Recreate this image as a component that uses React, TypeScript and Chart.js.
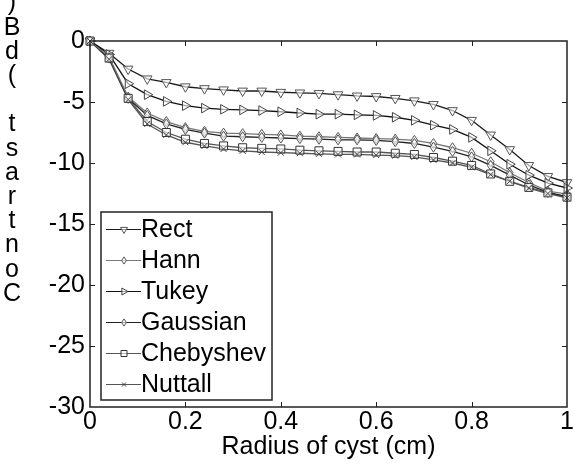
import React, { useEffect, useRef } from "react";
import { Chart, registerables } from "chart.js";

Chart.register(...registerables);

const xValues = [0, 0.04, 0.08, 0.12, 0.16, 0.2, 0.24, 0.28, 0.32, 0.36, 0.4, 0.44, 0.48, 0.52, 0.56, 0.6, 0.64, 0.68, 0.72, 0.76, 0.8, 0.84, 0.88, 0.92, 0.96, 1.0];
const rectValues = [0, -1.0, -2.3, -3.1, -3.4, -3.75, -3.9, -4.0, -4.1, -4.1, -4.2, -4.25, -4.3, -4.4, -4.5, -4.55, -4.7, -4.9, -5.2, -5.7, -6.5, -7.7, -8.9, -10.2, -11.1, -11.6];
const hannValues = [0, -1.3, -4.6, -5.9, -6.6, -7.1, -7.4, -7.55, -7.6, -7.65, -7.7, -7.8, -7.85, -7.9, -7.95, -8.0, -8.05, -8.15, -8.4, -8.75, -9.2, -9.9, -10.8, -11.6, -12.3, -12.55];
const tukeyValues = [0, -1.1, -3.5, -4.4, -4.95, -5.3, -5.5, -5.6, -5.65, -5.7, -5.8, -5.9, -6.0, -6.0, -6.05, -6.1, -6.25, -6.5, -6.9, -7.25, -7.9, -9.0, -10.1, -11.0, -11.65, -12.05];
const gaussianValues = [0, -1.4, -4.7, -6.1, -6.8, -7.25, -7.55, -7.8, -7.85, -7.9, -7.95, -8.0, -8.05, -8.1, -8.1, -8.15, -8.25, -8.4, -8.7, -9.05, -9.5, -10.2, -11.0, -11.8, -12.4, -12.75];
const chebyshevValues = [0, -1.4, -4.7, -6.6, -7.5, -8.05, -8.4, -8.6, -8.75, -8.8, -8.85, -8.95, -9.0, -9.05, -9.1, -9.1, -9.2, -9.3, -9.55, -9.85, -10.2, -10.9, -11.5, -12.0, -12.45, -12.8];
const nuttallValues = [0, -1.5, -4.8, -6.8, -7.7, -8.3, -8.6, -8.85, -9.0, -9.1, -9.15, -9.2, -9.25, -9.3, -9.3, -9.35, -9.4, -9.5, -9.75, -10.0, -10.35, -10.95, -11.5, -12.05, -12.5, -12.85];

const seriesNames = ["Rect", "Hann", "Tukey", "Gaussian", "Chebyshev", "Nuttall"];
const xTicks = [0, 0.2, 0.4, 0.6, 0.8, 1];
const yTicks = [-30, -25, -20, -15, -10, -5, 0];
const xTitle = "Radius of cyst (cm)";
const yTitle = "Contrast (dB)";

const FONT = "'Liberation Sans', Arial, Helvetica, sans-serif";
const FS = 25;

type Style = { line: string; marker: string; shape: string; rot: number; r: number; lr: number };
const styles: Style[] = [
  { line: "#1a1a1a", marker: "#555", shape: "triangle", rot: 180, r: 4.8, lr: 3.5 },
  { line: "#777", marker: "#555", shape: "rectRot", rot: 0, r: 4.2, lr: 3 },
  { line: "#111", marker: "#444", shape: "triangle", rot: 90, r: 4.8, lr: 3.5 },
  { line: "#222", marker: "#555", shape: "rectRot", rot: 0, r: 4.2, lr: 3 },
  { line: "#555", marker: "#333", shape: "rect", rot: 0, r: 4, lr: 3 },
  { line: "#555", marker: "#444", shape: "crossRot", rot: 0, r: 3, lr: 2 },
];

function drawMarker(ctx: CanvasRenderingContext2D, s: Style, x: number, y: number, r: number) {
  ctx.save();
  ctx.translate(x, y);
  ctx.rotate((s.rot * Math.PI) / 180);
  ctx.beginPath();
  if (s.shape === "triangle") {
    ctx.moveTo(0, -r * 1.15);
    ctx.lineTo(r * 1.0, r * 0.6);
    ctx.lineTo(-r * 1.0, r * 0.6);
    ctx.closePath();
  } else if (s.shape === "rectRot") {
    ctx.moveTo(0, -r * 1.2);
    ctx.lineTo(r * 0.8, 0);
    ctx.lineTo(0, r * 1.2);
    ctx.lineTo(-r * 0.8, 0);
    ctx.closePath();
  } else if (s.shape === "rect") {
    ctx.rect(-r, -r, 2 * r, 2 * r);
  } else {
    ctx.moveTo(-r, -r);
    ctx.lineTo(r, r);
    ctx.moveTo(r, -r);
    ctx.lineTo(-r, r);
  }
  ctx.fillStyle = "rgba(255,255,255,0.6)";
  if (s.shape !== "crossRot") ctx.fill();
  ctx.strokeStyle = s.marker;
  ctx.lineWidth = 1;
  ctx.stroke();
  ctx.restore();
}

const decorPlugin = {
  id: "decor",
  afterDatasetsDraw(chart: any) {
    const ctx: CanvasRenderingContext2D = chart.ctx;
    const { left, right, top, bottom } = chart.chartArea;
    const xs = chart.scales.x;
    const ys = chart.scales.y;
    chart.data.datasets.forEach((ds: any, i: number) => {
      const meta = chart.getDatasetMeta(i);
      meta.data.forEach((pt: any) => drawMarker(ctx, styles[i], pt.x, pt.y, styles[i].r));
    });
    ctx.save();
    ctx.strokeStyle = "#222";
    ctx.lineWidth = 1.5;
    ctx.strokeRect(left, top, right - left, bottom - top);
    ctx.lineWidth = 1;
    ctx.beginPath();
    xTicks.forEach((v) => {
      if (v === 0 || v === 1) return;
      const px = Math.round(xs.getPixelForValue(v)) + 0.5;
      ctx.moveTo(px, bottom);
      ctx.lineTo(px, bottom - 5);
      ctx.moveTo(px, top);
      ctx.lineTo(px, top + 5);
    });
    yTicks.forEach((v) => {
      if (v === 0 || v === -30) return;
      const py = Math.round(ys.getPixelForValue(v)) + 0.5;
      ctx.moveTo(left, py);
      ctx.lineTo(left + 5, py);
      ctx.moveTo(right, py);
      ctx.lineTo(right - 5, py);
    });
    ctx.stroke();

    // legend
    const lx0 = 101, ly0 = 212, lx1 = 272, ly1 = 400;
    ctx.fillStyle = "#fff";
    ctx.fillRect(lx0, ly0, lx1 - lx0, ly1 - ly0);
    ctx.strokeStyle = "#222";
    ctx.lineWidth = 1.5;
    ctx.strokeRect(lx0, ly0, lx1 - lx0, ly1 - ly0);
    ctx.font = `${FS}px ${FONT}`;
    ctx.textBaseline = "middle";
    ctx.textAlign = "left";
    seriesNames.forEach((name, i) => {
      const y = 229 + i * 31;
      ctx.strokeStyle = styles[i].line;
      ctx.lineWidth = 1;
      ctx.beginPath();
      ctx.moveTo(106, y + 0.5);
      ctx.lineTo(141, y + 0.5);
      ctx.stroke();
      drawMarker(ctx, styles[i], 124, y + 0.5, styles[i].lr);
      ctx.fillStyle = "#000";
      ctx.fillText(name, 141, y + 1);
    });

    // y title: stacked characters, reversed
    ctx.font = `${FS}px ${FONT}`;
    ctx.textAlign = "center";
    ctx.textBaseline = "middle";
    ctx.fillStyle = "#000";
    const chars = yTitle.split("");
    chars.forEach((ch, i) => {
      const y = 294 - i * 24.2;
      ctx.fillText(ch, 12, y);
    });
    ctx.restore();
  },
};

export default function App() {
  const ref = useRef<HTMLCanvasElement | null>(null);
  useEffect(() => {
    document.body.style.margin = "0";
    const seriesValues = [rectValues, hannValues, tukeyValues, gaussianValues, chebyshevValues, nuttallValues];
    const chart = new Chart(ref.current as HTMLCanvasElement, {
      type: "line",
      data: {
        datasets: seriesValues.map((vals, i) => ({
          label: seriesNames[i],
          data: xValues.map((x, j) => ({ x, y: vals[j] })),
          borderColor: styles[i].line,
          borderWidth: 1.3,
          pointRadius: 0,
          fill: false,
          tension: 0,
        })),
      },
      options: {
        animation: false,
        responsive: false,
        maintainAspectRatio: false,
        layout: { padding: { top: 41, right: 8, left: 0, bottom: 0 } },
        plugins: { legend: { display: false }, tooltip: { enabled: false } },
        scales: {
          x: {
            type: "linear",
            min: 0,
            max: 1,
            afterBuildTicks: (s: any) => {
              s.ticks = xTicks.map((v) => ({ value: v }));
            },
            afterFit: (s: any) => {
              s.height = 63;
            },
            grid: { display: false, drawTicks: false },
            border: { display: false },
            ticks: {
              color: "#000",
              font: { family: FONT, size: FS },
              padding: 0,
              maxRotation: 0,
              autoSkip: false,
              callback: (v: any) => String(Number(Number(v).toFixed(1))),
            },
            title: {
              display: true,
              text: xTitle,
              color: "#000",
              font: { family: FONT, size: FS },
              padding: { top: 0, bottom: 8 },
            },
          },
          y: {
            type: "linear",
            min: -30,
            max: 0,
            afterBuildTicks: (s: any) => {
              s.ticks = yTicks.map((v) => ({ value: v }));
            },
            afterFit: (s: any) => {
              s.width = 90;
            },
            grid: { display: false, drawTicks: false },
            border: { display: false },
            ticks: {
              color: "#000",
              font: { family: FONT, size: FS },
              padding: 5,
              autoSkip: false,
              callback: (v: any) => String(v),
            },
          },
        },
      },
      plugins: [decorPlugin],
    });
    return () => chart.destroy();
  }, []);
  return (
    <div style={{ position: "absolute", left: 0, top: 0, width: 575, height: 470 }}>
      <canvas ref={ref} width={575} height={470} style={{ width: 575, height: 470 }} />
    </div>
  );
}
